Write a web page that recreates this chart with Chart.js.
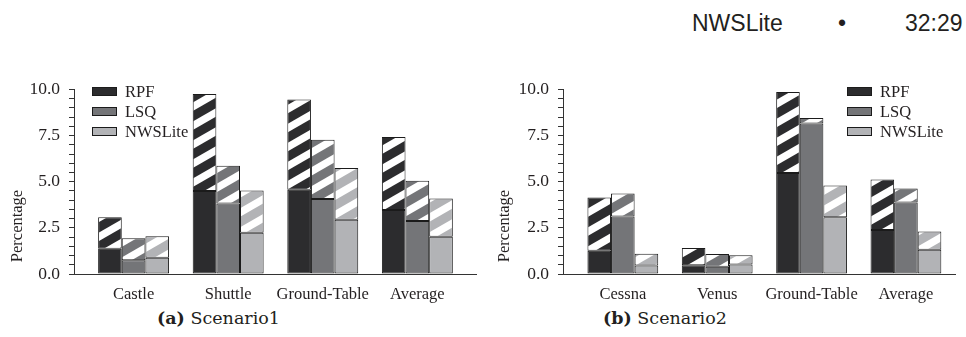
<!DOCTYPE html>
<html>
<head>
<meta charset="utf-8">
<script src="https://cdn.jsdelivr.net/npm/chart.js@4.4.0/dist/chart.umd.min.js"></script>
<style>
  body { margin: 0; background: #fff; width: 966px; height: 337px; overflow: hidden; position: relative; }
  .hdr { position: absolute; top: 12px; font-family: "Liberation Sans", Arial, sans-serif; font-size: 23px; line-height: 23px; color: #231f20; }
  .box { position: absolute; top: 70px; height: 235px; }
  .cap { position: absolute; top: 310px; font-family: "DejaVu Serif", serif; font-size: 17.5px; line-height: 17.5px; color: #231f20; }
</style>
</head>
<body>
<div class="hdr" style="left:692px">NWSLite</div>
<div class="hdr" style="left:838px">•</div>
<div class="hdr" style="left:905px">32:29</div>
<div class="box" style="left:0;width:480px"><canvas id="chart-a" width="480" height="235"></canvas></div>
<div class="box" style="left:480px;width:486px"><canvas id="chart-b" width="486" height="235"></canvas></div>
<div class="cap" style="left:157px"><b>(a)</b> Scenario1</div>
<div class="cap" style="left:603px"><b>(b)</b> Scenario2</div>

<script>
// Series
const seriesNames = ["RPF", "LSQ", "NWSLite"]
const seriesColors = ["#2c2c2e", "#747578", "#b2b3b6"]

// Scenario 1 (solid part = base, hatched part goes up to total)
const scenario1Labels = ["Castle", "Shuttle", "Ground-Table", "Average"]
const rpf1Base = [1.37, 4.5, 4.56, 3.47]
const rpf1Total = [3.08, 9.75, 9.46, 7.42]
const lsq1Base = [0.74, 3.82, 4.06, 2.87]
const lsq1Total = [1.94, 5.87, 7.27, 5.05]
const nws1Base = [0.88, 2.23, 2.94, 2.02]
const nws1Total = [2.05, 4.52, 5.75, 4.09]

// Scenario 2
const scenario2Labels = ["Cessna", "Venus", "Ground-Table", "Average"]
const rpf2Base = [1.26, 0.47, 5.48, 2.39]
const rpf2Total = [4.14, 1.41, 9.86, 5.12]
const lsq2Base = [3.12, 0.39, 8.16, 3.87]
const lsq2Total = [4.36, 1.09, 8.46, 4.64]
const nws2Base = [0.46, 0.52, 3.07, 1.32]
const nws2Total = [1.1, 1.02, 4.8, 2.3]

const yTicksMajor = [0, 2.5, 5, 7.5, 10]

const SERIF = "'Liberation Serif', 'Times New Roman', serif"
const INK = "#231f20"

// Diagonal white stripes on the series colour
function makeHatch(color) {
  const W = 33, H = 19, t = 8.5
  const tile = document.createElement("canvas")
  tile.width = W
  tile.height = H
  const c = tile.getContext("2d")
  c.fillStyle = color
  c.fillRect(0, 0, W, H)
  c.fillStyle = "#ffffff"
  for (let k = -1; k <= 2; k++) {
    const o = k * H
    c.beginPath()
    c.moveTo(0, H + o)
    c.lineTo(W, o)
    c.lineTo(W, o - t)
    c.lineTo(0, H + o - t)
    c.closePath()
    c.fill()
  }
  return c.createPattern(tile, "repeat")
}

function buildDatasets(bases, totals) {
  const sets = []
  seriesNames.forEach((name, s) => {
    const common = {
      stack: name,
      borderColor: "#1b1b1b",
      borderWidth: 1,
      borderSkipped: false,
      categoryPercentage: 0.75,
      barPercentage: 1.0,
    }
    sets.push({
      ...common,
      label: name,
      data: bases[s].map((v, i) => ({ x: i, y: v })),
      backgroundColor: seriesColors[s],
    })
    sets.push({
      ...common,
      label: name + " (hatched)",
      data: totals[s].map((v, i) => ({ x: i, y: v - bases[s][i] })),
      backgroundColor: makeHatch(seriesColors[s]),
    })
  })
  return sets
}

// Legend drawn inside the plot area
const boxLegend = {
  id: "boxLegend",
  afterDraw(chart, args, opts) {
    const ctx = chart.ctx
    ctx.save()
    ctx.font = "16.5px " + SERIF
    ctx.textBaseline = "alphabetic"
    seriesNames.forEach((name, s) => {
      const y = opts.y + s * 20
      ctx.fillStyle = seriesColors[s]
      ctx.fillRect(opts.x, y, 25, 9)
      ctx.strokeStyle = "#1b1b1b"
      ctx.lineWidth = 1
      ctx.strokeRect(opts.x + 0.5, y + 0.5, 24, 8)
      ctx.fillStyle = INK
      ctx.fillText(name, opts.x + 33, y + 9.5)
    })
    ctx.restore()
  },
}

// Y axis title, placed like the original
const yTitle = {
  id: "yTitle",
  afterDraw(chart, args, opts) {
    const ctx = chart.ctx
    ctx.save()
    ctx.translate(opts.x, opts.y)
    ctx.rotate(-Math.PI / 2)
    ctx.font = "16.5px " + SERIF
    ctx.fillStyle = INK
    ctx.textAlign = "center"
    ctx.textBaseline = "middle"
    ctx.fillText("Percentage", 0, 0)
    ctx.restore()
  },
}

function makeChart(id, labels, datasets, cfg) {
  return new Chart(document.getElementById(id), {
    type: "bar",
    data: { datasets },
    options: {
      responsive: false,
      animation: false,
      layout: { padding: { top: 17, right: cfg.padRight, left: 0, bottom: 0 } },
      plugins: {
        legend: { display: false },
        tooltip: { enabled: false },
        boxLegend: { x: cfg.legendX, y: 17 },
        yTitle: { x: cfg.titleX, y: 156 },
      },
      scales: {
        x: {
          type: "linear",
          offset: false,
          min: cfg.xMin,
          max: cfg.xMax,
          grid: { display: false, drawTicks: false, offset: false },
          border: { display: true, color: "#333", width: 1 },
          afterBuildTicks: (scale) => {
            scale.ticks = labels.map((_, i) => ({ value: i }))
          },
          afterFit: (scale) => {
            scale.height = 31
          },
          ticks: {
            autoSkip: false,
            maxRotation: 0,
            padding: 11,
            color: INK,
            font: { family: SERIF, size: 16.5 },
            callback: (value) => labels[value],
          },
        },
        y: {
          stacked: true,
          min: 0,
          max: 10,
          afterFit: (scale) => {
            scale.width = cfg.axisX
          },
          grid: { drawOnChartArea: false, tickLength: 5, color: "#333" },
          border: { display: true, color: "#333", width: 1 },
          ticks: {
            stepSize: 0.5,
            autoSkip: false,
            padding: 9,
            color: INK,
            font: { family: SERIF, size: 17.5 },
            callback: (value) => (yTicksMajor.includes(value) ? value.toFixed(1) : ""),
          },
        },
      },
    },
    plugins: [boxLegend, yTitle],
  })
}

makeChart(
  "chart-a",
  scenario1Labels,
  buildDatasets([rpf1Base, lsq1Base, nws1Base], [rpf1Total, lsq1Total, nws1Total]),
  { axisX: 74, padRight: 4, xMin: -0.63, xMax: 3.62, legendX: 92, titleX: 18 }
)

makeChart(
  "chart-b",
  scenario2Labels,
  buildDatasets([rpf2Base, lsq2Base, nws2Base], [rpf2Total, lsq2Total, nws2Total]),
  { axisX: 83, padRight: 11, xMin: -0.634, xMax: 3.52, legendX: 367, titleX: 25 }
)
</script>
</body>
</html>
